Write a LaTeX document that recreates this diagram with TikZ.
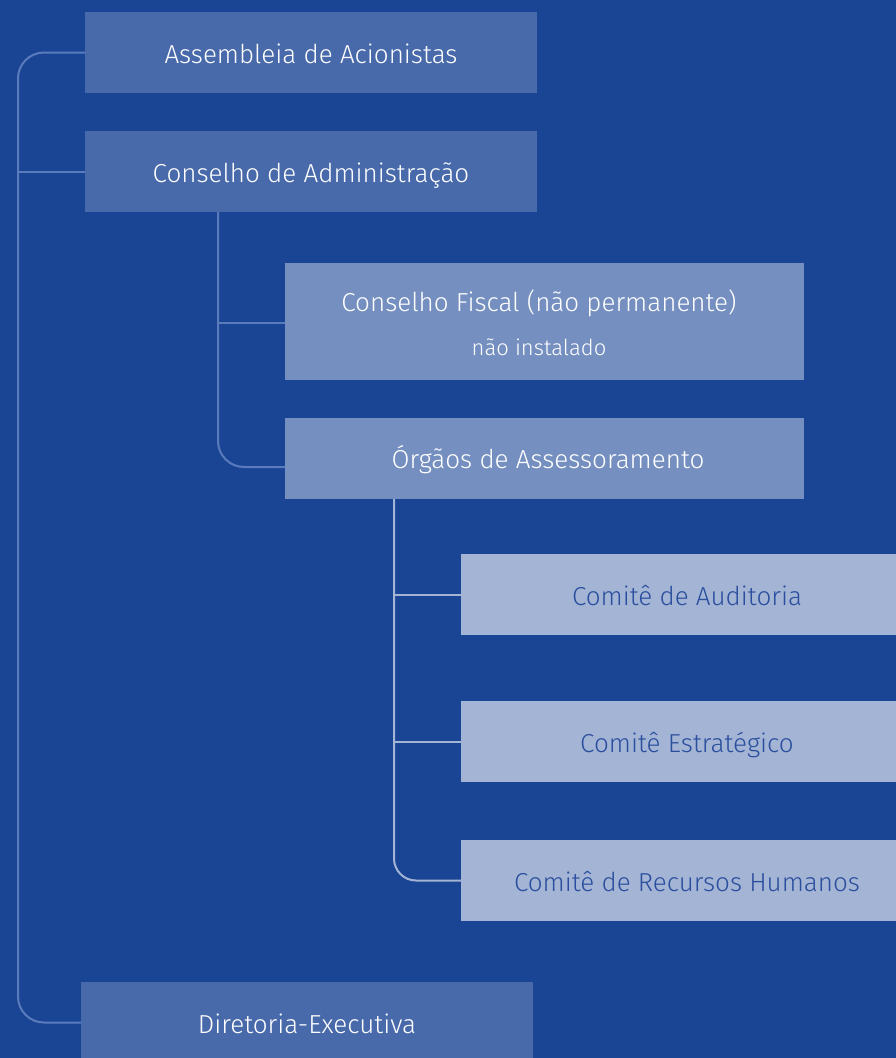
\documentclass[tikz,border=0pt]{standalone}
\usepackage{fontspec}
\setmainfont{Fira Sans Light}
\definecolor{bg}{HTML}{1A4494}
\definecolor{boxA}{HTML}{486AAA}
\definecolor{boxB}{HTML}{7590C0}
\definecolor{boxC}{HTML}{A3B4D5}
\definecolor{txtdark}{HTML}{2B4F9E}
\definecolor{lineA}{HTML}{5A7CBC}
\definecolor{lineB}{HTML}{A3B4D5}
\tikzset{
  box/.style={anchor=north west, inner sep=0pt, outer sep=0pt, text height=26pt, text depth=5pt, font=\fontsize{26}{30}\selectfont},
  lvlA/.style={box, fill=boxA, text=white},
  lvlB/.style={box, fill=boxB, text=white},
  lvlC/.style={box, fill=boxC, text=txtdark},
  conA/.style={draw=lineA, line width=2pt, rounded corners=26pt},
  conB/.style={draw=lineB, line width=2pt, rounded corners=22pt},
}
\begin{document}
\begin{tikzpicture}[x=1pt,y=-1pt]
\fill[bg] (0,0) rectangle (896,1058);
\useasboundingbox (0,0) rectangle (896,1058);
\begin{scope}
\clip (0,0) rectangle (896,1058);
\node[lvlA, minimum width=452pt, minimum height=81pt] (asm) at (85,12) {Assembleia de Acionistas};
\node[lvlA, minimum width=452pt, minimum height=81pt] (cadm) at (85,131) {Conselho de Administração};
\node[lvlB, minimum width=519pt, minimum height=117pt] (fis) at (285,263) {};
\node[text=white, font=\fontsize{26}{30}\selectfont, anchor=base] (fist) at (539,311) {Conselho Fiscal (não permanente)};
\node[text=white, font=\fontsize{22}{26}\selectfont, anchor=base] (fiss) at (539,355) {não instalado};
\node[lvlB, minimum width=519pt, minimum height=81pt] (org) at (285,418) {};
\node[text=white, font=\fontsize{26}{30}\selectfont, anchor=base] (orgt) at (548,468) {Órgãos de Assessoramento};
\node[lvlC, minimum width=452pt, minimum height=81pt] (aud) at (461,554) {Comitê de Auditoria};
\node[lvlC, minimum width=452pt, minimum height=81pt] (est) at (461,701) {Comitê Estratégico};
\node[lvlC, minimum width=452pt, minimum height=81pt] (rh) at (461,840) {Comitê de Recursos Humanos};
\node[lvlA, minimum width=452pt, minimum height=81pt] (dir) at (81,982) {Diretoria-Executiva};

\coordinate (trunk) at (18,0);
\coordinate (cadmdown) at (218,212);
\coordinate (orgin) at (285,467);
\coordinate (fisin) at (285,323);
\coordinate (orgdown) at (394,499);

\draw[conA] (asm.west) -| (trunk |- cadm.west) |- (dir.west);
\draw[conA] (cadm.west) -- (trunk |- cadm.west);
\draw[conA] (cadmdown) |- (orgin);
\draw[conA] (fisin) -- (cadmdown |- fisin);
\draw[conB] (orgdown) |- (rh.west);
\draw[conB] (aud.west) -- (orgdown |- aud.west);
\draw[conB] (est.west) -- (orgdown |- est.west);
\end{scope}
\end{tikzpicture}
\end{document}
